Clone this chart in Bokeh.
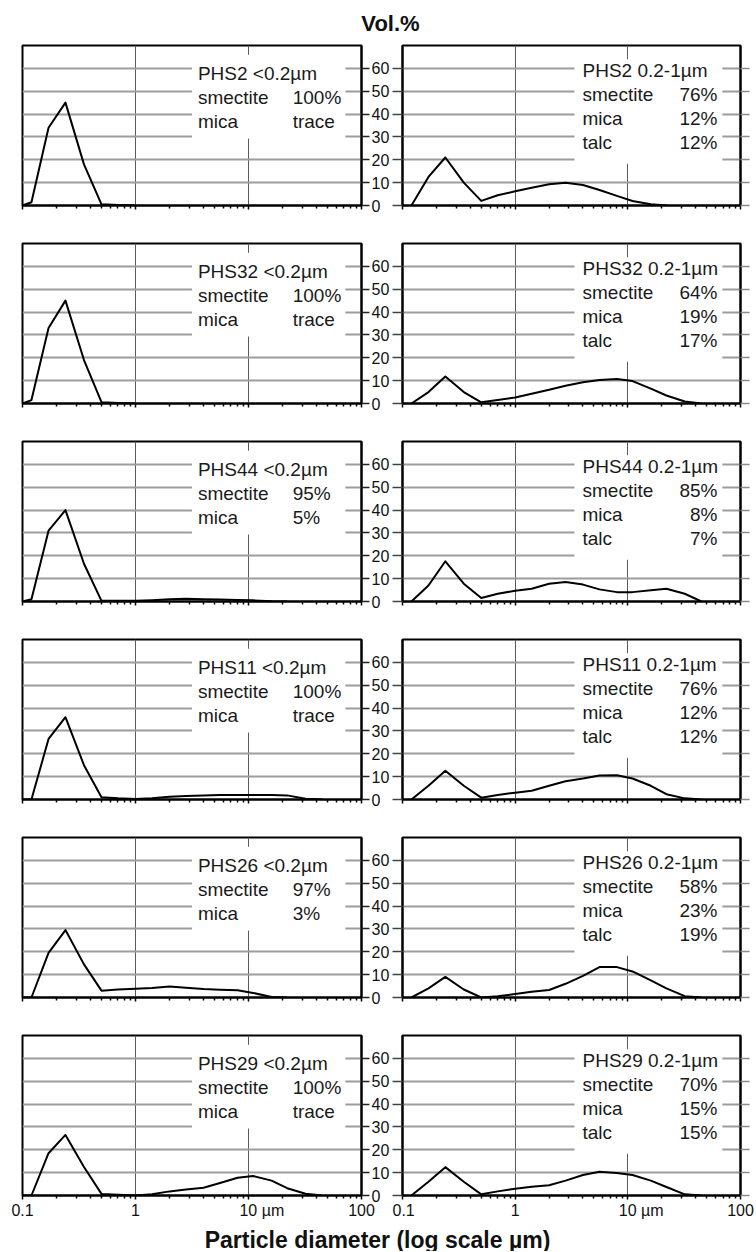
from bokeh.plotting import figure
from bokeh.layouts import column, row
from bokeh.models import Range1d, FixedTicker, CustomJSTickFormatter, LinearAxis
from bokeh.core.properties import value
from bokeh.embed import file_html
from bokeh.resources import INLINE

nan = float("nan")

# particle diameter (µm), common sampling grid
diameters = [0.1, 0.12, 0.17, 0.24, 0.35, 0.5, 0.7, 1.0, 1.4, 2.0, 2.8, 4.0,
             5.6, 8.0, 11.0, 16.0, 22.0, 32.0, 45.0, 64.0]

samples = ["PHS2", "PHS32", "PHS44", "PHS11", "PHS26", "PHS29"]

# Vol.% for the <0.2 µm fractions
phs2_fine = [0, 1.4, 34, 45, 18, 0.5, 0.2, 0, nan, nan, nan, nan, nan, nan, nan, nan, nan, nan, nan, nan]
phs32_fine = [0, 1.5, 33, 45, 19, 0.6, 0.2, 0, nan, nan, nan, nan, nan, nan, nan, nan, nan, nan, nan, nan]
phs44_fine = [0, 1.0, 31, 40, 16.5, 0.3, 0.3, 0.3, 0.6, 1.0, 1.2, 1.0, 0.9, 0.7, 0.5, 0.1, 0, nan, nan, nan]
phs11_fine = [0, 0, 26.5, 36, 15, 1.0, 0.5, 0.2, 0.5, 1.2, 1.5, 1.8, 2.0, 2.0, 2.0, 2.0, 1.8, 0.3, 0, nan]
phs26_fine = [0, 0, 19.5, 29.5, 14.5, 3.0, 3.5, 3.8, 4.2, 4.8, 4.3, 3.7, 3.4, 3.2, 2.0, 0.2, 0, nan, nan, nan]
phs29_fine = [0, 0, 18.5, 26.5, 12.5, 0.7, 0.3, 0, 0.5, 1.8, 2.6, 3.4, 5.5, 7.8, 8.5, 6.5, 3.2, 0.8, 0, nan]

# Vol.% for the 0.2-1 µm fractions
phs2_coarse = [nan, 0, 12.5, 21, 10, 2.0, 4.5, 6.2, 7.8, 9.3, 10, 9.0, 6.8, 4.2, 2.0, 0.5, 0, nan, nan, nan]
phs32_coarse = [nan, 0, 5.0, 11.8, 5.0, 0.5, 1.5, 2.6, 4.3, 6.0, 7.8, 9.3, 10.3, 10.7, 9.8, 6.5, 3.5, 0.9, 0, nan]
phs44_coarse = [nan, 0, 7.0, 17.6, 7.8, 1.5, 3.4, 4.7, 5.6, 7.8, 8.5, 7.4, 5.3, 4.1, 4.1, 4.9, 5.6, 3.4, 0, nan]
phs11_coarse = [nan, 0, 6.0, 12.6, 6.0, 0.8, 2.0, 3.0, 3.8, 6.0, 8.0, 9.2, 10.5, 10.6, 9.2, 6.0, 2.3, 0.5, 0, nan]
phs26_coarse = [nan, 0, 4.0, 9.0, 3.5, 0, 0.5, 1.5, 2.5, 3.3, 6.0, 9.5, 13.3, 13.3, 11.4, 7.5, 4.0, 0.6, 0, nan]
phs29_coarse = [nan, 0, 6.0, 12.4, 6.0, 0.5, 1.8, 3.0, 3.8, 4.5, 6.5, 9.0, 10.4, 9.8, 9.0, 6.5, 3.7, 0.5, 0, nan]

fine_series = [phs2_fine, phs32_fine, phs44_fine, phs11_fine, phs26_fine, phs29_fine]
coarse_series = [phs2_coarse, phs32_coarse, phs44_coarse, phs11_coarse, phs26_coarse, phs29_coarse]

# mineral composition texts
fine_smectite = ["100%", "100%", "95%", "100%", "97%", "100%"]
fine_mica = ["trace", "trace", "5%", "trace", "3%", "trace"]
coarse_smectite = ["76%", "64%", "85%", "76%", "58%", "70%"]
coarse_mica = ["12%", "19%", "8%", "12%", "23%", "15%"]
coarse_talc = ["12%", "17%", "7%", "12%", "19%", "15%"]

x_major = [0.1, 1, 10, 100]
x_minor = [0.2, 0.3, 0.4, 0.5, 0.6, 0.7, 0.8, 0.9, 2, 3, 4, 5, 6, 7, 8, 9,
           20, 30, 40, 50, 60, 70, 80, 90]
y_ticks = [0, 10, 20, 30, 40, 50, 60]
y_grid = [10, 20, 30, 40, 50, 60]

FONT = "Liberation Sans"
NB = "\\u00a0"
EMPTY = CustomJSTickFormatter(code="return '';")
X_FMT = CustomJSTickFormatter(code=(
    "if (Math.abs(tick - 10) < 1e-9) return '" + NB * 6 + "10" + NB + "\\u00b5m';"
    "if (Math.abs(tick - 1) < 1e-9) return '1';"
    "if (Math.abs(tick - 0.1) < 1e-9) return '0.1';"
    "return '100';"))


def style_common(p):
    p.outline_line_color = "black"
    p.outline_line_width = 2
    p.background_fill_color = "white"
    p.border_fill_color = "white"
    ax = p.xaxis[0]
    ax.ticker = FixedTicker(ticks=x_major, minor_ticks=x_minor)
    ax.axis_line_color = "black"
    ax.axis_line_width = 2
    ax.major_tick_out = 4
    ax.major_tick_in = 0
    ax.minor_tick_out = 3
    ax.minor_tick_in = 0
    ax.major_tick_line_color = "black"
    ax.minor_tick_line_color = "black"
    ax.major_tick_line_width = 1.5
    ax.minor_tick_line_width = 1.5
    ax.major_label_text_font = FONT
    ax.major_label_text_font_size = "16px"
    ax.major_label_text_color = "#111111"
    ax.major_label_standoff = 2
    p.ygrid.ticker = FixedTicker(ticks=y_grid)
    p.ygrid.grid_line_color = "#9c9c9c"
    p.ygrid.grid_line_width = 2
    p.xgrid.ticker = FixedTicker(ticks=[1, 10])
    p.xgrid.grid_line_color = "#5a5a5a"
    p.xgrid.grid_line_width = 1


def make_fine(i, last):
    bb = 26 if last else 36
    p = figure(width=392, height=2 + 160 + bb, x_axis_type="log",
               x_range=Range1d(0.1, 100), y_range=Range1d(0, 70),
               y_axis_location="right", output_backend="svg", toolbar_location=None,
               min_border_left=22, min_border_right=30, min_border_top=2,
               min_border_bottom=bb)
    style_common(p)
    p.xaxis[0].formatter = X_FMT if last else EMPTY
    ya = p.yaxis[0]
    ya.ticker = FixedTicker(ticks=y_ticks)
    ya.major_tick_out = 8
    ya.major_tick_in = 0
    ya.major_tick_line_color = "#222222"
    ya.major_tick_line_width = 1.5
    ya.axis_line_color = "black"
    ya.axis_line_width = 2
    ya.major_label_text_font = FONT
    ya.major_label_text_font_size = "16px"
    ya.major_label_text_color = "#111111"
    ya.major_label_standoff = 2
    # white text box over the grid
    p.quad(left=[3.16], right=[72], bottom=[29.3], top=[66], fill_color="white",
           line_color=None)
    p.line(diameters, fine_series[i], line_color="black", line_width=2,
           line_join="round")
    p.text(x=[3.57, 3.57, 3.57], y=[57.7, 47.2, 36.7],
           text=[samples[i] + " <0.2\u00b5m", "smectite", "mica"],
           text_font=value(FONT), text_font_size="19px", text_color="#1a1a1a",
           text_baseline="middle", text_align="left")
    p.text(x=[24.6, 24.6], y=[47.2, 36.7], text=[fine_smectite[i], fine_mica[i]],
           text_font=value(FONT), text_font_size="19px", text_color="#1a1a1a",
           text_baseline="middle", text_align="left")
    return p


def make_coarse(i, last):
    bb = 26 if last else 36
    p = figure(width=364, height=2 + 160 + bb, x_axis_type="log",
               x_range=Range1d(0.1, 100), y_range=Range1d(0, 70),
               y_axis_location="left", output_backend="svg", toolbar_location=None,
               min_border_left=10, min_border_right=16, min_border_top=2,
               min_border_bottom=bb)
    style_common(p)
    p.xaxis[0].formatter = X_FMT if last else EMPTY
    ya = p.yaxis[0]
    ya.ticker = FixedTicker(ticks=y_ticks)
    ya.formatter = EMPTY
    ya.major_tick_out = 10
    ya.major_tick_in = 0
    ya.major_label_standoff = 0
    ya.major_tick_line_color = "#444444"
    ya.major_tick_line_width = 1.5
    ya.axis_line_color = "black"
    ya.axis_line_width = 2
    ra = LinearAxis(ticker=FixedTicker(ticks=y_ticks), formatter=EMPTY,
                    major_tick_out=9, major_tick_in=0, major_label_standoff=0,
                    major_tick_line_color="#8a8a8a", major_tick_line_width=1.5,
                    axis_line_color="black", axis_line_width=2)
    p.add_layout(ra, "right")
    p.quad(left=[3.36], right=[69], bottom=[18.3], top=[64], fill_color="white",
           line_color=None)
    p.line(diameters, coarse_series[i], line_color="black", line_width=2,
           line_join="round")
    p.text(x=[3.96] * 4, y=[59, 48.5, 38, 27.5],
           text=[samples[i] + " 0.2-1\u00b5m", "smectite", "mica", "talc"],
           text_font=value(FONT), text_font_size="19px", text_color="#1a1a1a",
           text_baseline="middle", text_align="left")
    p.text(x=[62.5] * 3, y=[48.5, 38, 27.5],
           text=[coarse_smectite[i], coarse_mica[i], coarse_talc[i]],
           text_font=value(FONT), text_font_size="19px", text_color="#1a1a1a",
           text_baseline="middle", text_align="right")
    return p


def text_strip(height, label, x, y, size):
    f = figure(title=None, width=756, height=height, x_range=Range1d(0, 756),
               y_range=Range1d(0, height), x_axis_location=None, y_axis_location=None,
               output_backend="svg", toolbar_location=None, min_border=0)
    f.grid.visible = False
    f.outline_line_color = None
    f.border_fill_color = "white"
    f.background_fill_color = "white"
    f.text(x=[x], y=[y], text=[label], text_font=value(FONT), text_font_style="bold",
           text_font_size=size, text_color="#111111", text_align="center",
           text_baseline="middle")
    return f


title = text_strip(43, "Vol.%", 390, 20, "22px")
xlabel = text_strip(30, "Particle diameter (log scale \u00b5m)", 377, 12, "23px")

rows = []
for i in range(len(samples)):
    last = i == len(samples) - 1
    rows.append(row(make_fine(i, last), make_coarse(i, last)))

layout = column(title, *rows, xlabel)

open("out.html", "w", encoding="utf-8").write(file_html(layout, INLINE))
